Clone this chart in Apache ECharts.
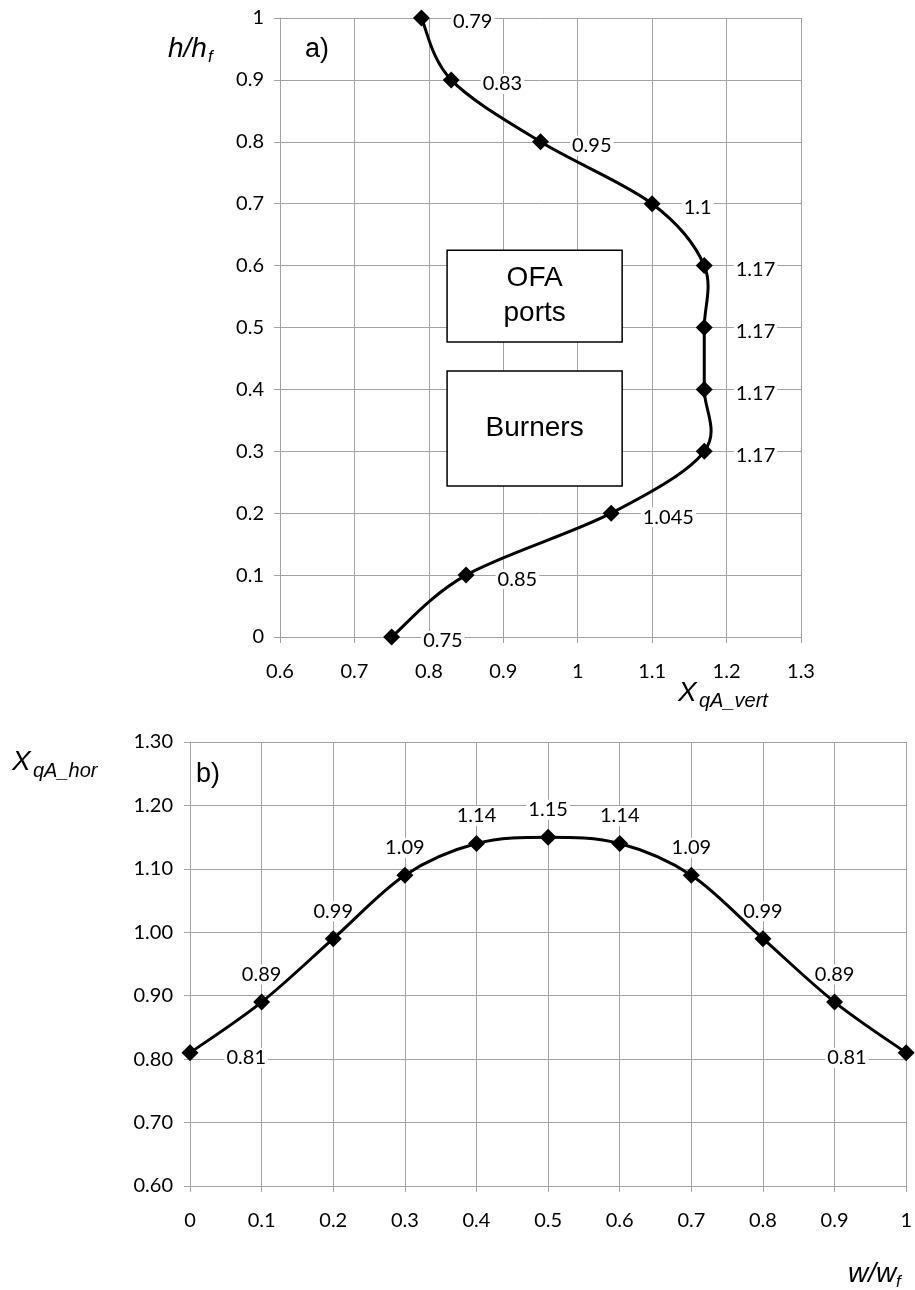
<!DOCTYPE html>
<html>
<head>
<meta charset="utf-8">
<script src="https://cdn.jsdelivr.net/npm/echarts@6/dist/echarts.min.js"></script>
<style>
  html, body { margin: 0; padding: 0; background: #fff; }
  #chart { width: 915px; height: 1290px; }
</style>
</head>
<body>
<div id="chart"></div>
<script>
// ---- Data ----
const aHeight = [0, 0.1, 0.2, 0.3, 0.4, 0.5, 0.6, 0.7, 0.8, 0.9, 1];
const aXqAvert = [0.75, 0.85, 1.045, 1.17, 1.17, 1.17, 1.17, 1.1, 0.95, 0.83, 0.79];
const bWidth = [0, 0.1, 0.2, 0.3, 0.4, 0.5, 0.6, 0.7, 0.8, 0.9, 1];
const bXqAhor = [0.81, 0.89, 0.99, 1.09, 1.14, 1.15, 1.14, 1.09, 0.99, 0.89, 0.81];
const boxLabels = ['OFA\nports', 'Burners'];
const ofaBox = [[0.8245, 0.625], [1.0597, 0.4766]];
const burnerBox = [[0.8245, 0.4297], [1.0597, 0.244]];

const aPoints = aHeight.map((h, i) => [aXqAvert[i], h]);
const bPoints = bWidth.map((w, i) => [w, bXqAhor[i]]);

const LBL = 'Lato';
const FS = 20;
const GRID_C = '#a3a3a3';

function valueAxisCommon() {
  return {
    type: 'value',
    axisLine: { show: true, lineStyle: { color: GRID_C, width: 1 } },
    axisTick: { show: true, inside: false, length: 6, lineStyle: { color: GRID_C } },
    splitLine: { show: true, lineStyle: { color: GRID_C, width: 1 } }
  };
}

const labelBase = {
  show: true, fontFamily: LBL, fontSize: FS, color: '#000',
  backgroundColor: '#fff', padding: [0, 2]
};

// Excel-like smoothed line (Catmull-Rom) drawn through the axis scales
function smoothRenderer(points) {
  return function (params, api) {
    if (params.dataIndex !== 0) return null;
    const px = points.map(p => api.coord(p));
    let d = 'M' + px[0][0] + ' ' + px[0][1];
    for (let i = 0; i < px.length - 1; i++) {
      const p0 = px[i - 1] || px[i];
      const p1 = px[i];
      const p2 = px[i + 1];
      const p3 = px[i + 2] || px[i + 1];
      const c1x = p1[0] + (p2[0] - p0[0]) / 6, c1y = p1[1] + (p2[1] - p0[1]) / 6;
      const c2x = p2[0] - (p3[0] - p1[0]) / 6, c2y = p2[1] - (p3[1] - p1[1]) / 6;
      d += ' C' + c1x + ' ' + c1y + ' ' + c2x + ' ' + c2y + ' ' + p2[0] + ' ' + p2[1];
    }
    return {
      type: 'path',
      shape: { pathData: d },
      style: { stroke: '#000', lineWidth: 3, fill: null, lineJoin: 'round' }
    };
  };
}

const chart = echarts.init(document.getElementById('chart'), null, { renderer: 'canvas' });

const option = {
  backgroundColor: '#fff',
  animation: false,
  grid: [
    { left: 280, top: 18, width: 521, height: 619 },
    { left: 190, top: 742, width: 719, height: 444 }
  ],
  xAxis: [
    Object.assign(valueAxisCommon(), {
      gridIndex: 0, min: 0.6, max: 1.3, interval: 0.1,
      axisLabel: { fontFamily: LBL, fontSize: FS, color: '#000', margin: 25 }
    }),
    Object.assign(valueAxisCommon(), {
      gridIndex: 1, min: 0, max: 1, interval: 0.1,
      axisLabel: { fontFamily: LBL, fontSize: FS, color: '#000', margin: 25 }
    })
  ],
  yAxis: [
    Object.assign(valueAxisCommon(), {
      gridIndex: 0, min: 0, max: 1, interval: 0.1,
      axisLabel: { fontFamily: LBL, fontSize: FS, color: '#000', margin: 16 }
    }),
    Object.assign(valueAxisCommon(), {
      gridIndex: 1, min: 0.6, max: 1.3, interval: 0.1,
      axisLabel: { fontFamily: LBL, fontSize: FS, color: '#000', margin: 17,
        formatter: v => v.toFixed(2) }
    })
  ],
  series: [
    {
      type: 'custom', xAxisIndex: 0, yAxisIndex: 0,
      data: aPoints,
      renderItem: smoothRenderer(aPoints),
      silent: true, z: 5
    },
    {
      type: 'line', xAxisIndex: 0, yAxisIndex: 0,
      data: aPoints,
      symbol: 'diamond', symbolSize: 17,
      lineStyle: { width: 0, opacity: 0 },
      itemStyle: { color: '#000' },
      z: 3,
      label: Object.assign({}, labelBase, {
        position: 'right', distance: 21, offset: [0, 4],
        formatter: p => String(p.value[0])
      }),
      markArea: {
        silent: true,
        itemStyle: { color: '#fff', borderColor: '#000', borderWidth: 1.5 },
        label: {
          show: true, position: 'inside', fontFamily: 'Liberation Sans',
          fontSize: 28, lineHeight: 35, color: '#000', align: 'center', verticalAlign: 'middle'
        },
        data: [
          [{ name: boxLabels[0], coord: ofaBox[0] }, { coord: ofaBox[1] }],
          [{ name: boxLabels[1], coord: burnerBox[0] }, { coord: burnerBox[1] }]
        ]
      }
    },
    {
      type: 'custom', xAxisIndex: 1, yAxisIndex: 1,
      data: bPoints,
      renderItem: smoothRenderer(bPoints),
      silent: true, z: 5
    },
    {
      type: 'line', xAxisIndex: 1, yAxisIndex: 1,
      data: bPoints.map((p, i) => {
        const d = { value: p };
        if (i === 0) d.label = { position: 'right', distance: 26, offset: [0, 5] };
        else if (i === bPoints.length - 1) d.label = { position: 'left', distance: 29, offset: [0, 5] };
        return d;
      }),
      symbol: 'diamond', symbolSize: 17,
      lineStyle: { width: 0, opacity: 0 },
      itemStyle: { color: '#000' },
      z: 3,
      label: Object.assign({}, labelBase, {
        position: 'top', distance: 9,
        formatter: p => p.value[1].toFixed(2)
      })
    }
  ],
  graphic: [
    { type: 'text', style: { x: 168, y: 49, text: 'h/h', font: 'italic 28px "Liberation Sans"', fill: '#000', align: 'left', verticalAlign: 'middle' } },
    { type: 'text', style: { x: 208, y: 57, text: 'f', font: 'italic 17px "Liberation Sans"', fill: '#000', align: 'left', verticalAlign: 'middle' } },
    { type: 'text', style: { x: 317, y: 50, text: 'a)', font: '27px "Liberation Sans"', fill: '#000', align: 'center', verticalAlign: 'middle' } },
    { type: 'text', style: { x: 678, y: 693, text: 'X', font: 'italic 28px "Liberation Sans"', fill: '#000', align: 'left', verticalAlign: 'middle' } },
    { type: 'text', style: { x: 699, y: 701, text: 'qA_vert', font: 'italic 20px "Liberation Sans"', fill: '#000', align: 'left', verticalAlign: 'middle' } },
    { type: 'text', style: { x: 12, y: 762, text: 'X', font: 'italic 28px "Liberation Sans"', fill: '#000', align: 'left', verticalAlign: 'middle' } },
    { type: 'text', style: { x: 33, y: 771, text: 'qA_hor', font: 'italic 20px "Liberation Sans"', fill: '#000', align: 'left', verticalAlign: 'middle' } },
    { type: 'text', style: { x: 208, y: 775, text: 'b)', font: '27px "Liberation Sans"', fill: '#000', align: 'center', verticalAlign: 'middle' } },
    { type: 'text', style: { x: 848, y: 1274, text: 'w/w', font: 'italic 28px "Liberation Sans"', fill: '#000', align: 'left', verticalAlign: 'middle' } },
    { type: 'text', style: { x: 896, y: 1282, text: 'f', font: 'italic 17px "Liberation Sans"', fill: '#000', align: 'left', verticalAlign: 'middle' } }
  ]
};
chart.setOption(option);
</script>
</body>
</html>
